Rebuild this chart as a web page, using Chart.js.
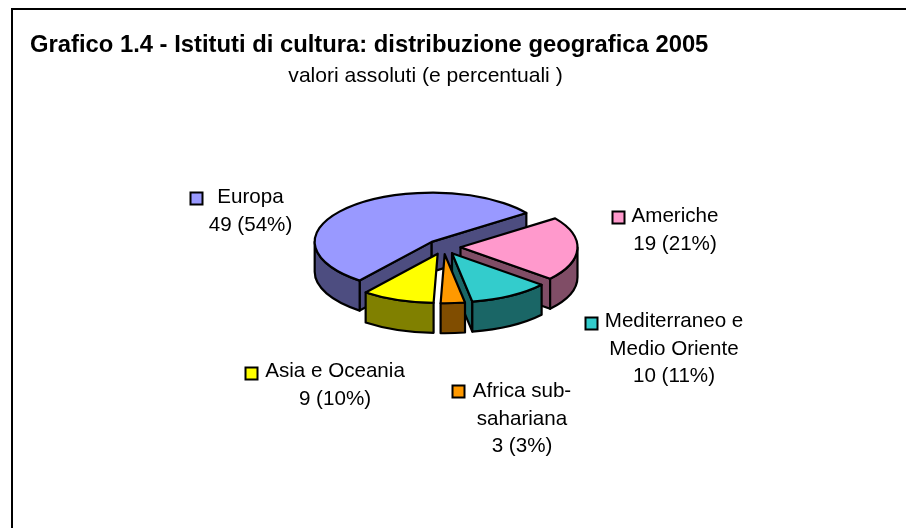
<!DOCTYPE html>
<html><head><meta charset="utf-8">
<style>html,body{margin:0;padding:0;background:#fff}#w{position:relative;width:906px;height:528px}</style>
<script src="https://cdn.jsdelivr.net/npm/chart.js@4"></script>
</head><body><div id="w"><canvas id="c" width="906" height="528"></canvas></div>
<script>
const categories = ['Europa','Americhe','Mediterraneo e Medio Oriente','Africa sub-sahariana','Asia e Oceania'];
const values = [49,19,10,3,9];
const percents = [54,21,11,3,10];
const topColors = ['#9999FF','#FF99CC','#33CCCC','#FF9900','#FFFF00'];
const sideColors = ['#4D4D80','#804D66','#1A6666','#804D00','#808000'];
const labelLines = [
  ['Europa','49 (54%)'],
  ['Americhe','19 (21%)'],
  ['Mediterraneo e','Medio Oriente','10 (11%)'],
  ['Africa sub-','sahariana','3 (3%)'],
  ['Asia e Oceania','9 (10%)']
];
const titleText = 'Grafico 1.4 - Istituti di cultura: distribuzione geografica 2005';
const subtitleText = 'valori assoluti (e percentuali )';
const FONT = '"Liberation Sans", Arial, sans-serif';
const labelPos = [
  {cx:250.5,y:203,mx:190.5,my:192.5},
  {cx:675,y:222,mx:612.5,my:211.5},
  {cx:674,y:327,mx:585.5,my:317.5},
  {cx:522,y:397,mx:452.5,my:385.5},
  {cx:335,y:377,mx:245.5,my:367.5}
];
const K = 0.42, DEPTH = 30, CX = 443.5, CY = 247, EXPLODE = 17, LINE = 27.5;

const pie3d = {
  id:'pie3d',
  beforeDraw(chart){
    const c = chart.ctx;
    c.save(); c.strokeStyle='#000'; c.lineWidth=2;
    c.beginPath(); c.moveTo(12,528); c.lineTo(12,9); c.lineTo(906,9); c.stroke();
    c.restore();
  },
  beforeDatasetsDraw(chart){
    const c = chart.ctx, arcs = chart.getDatasetMeta(0).data;
    const order = arcs.map((a,i)=>i).sort((p,q)=>
      Math.sin((arcs[p].startAngle+arcs[p].endAngle)/2)-Math.sin((arcs[q].startAngle+arcs[q].endAngle)/2));
    const TAU = Math.PI*2;
    for(const i of order){
      const a = arcs[i], R = a.outerRadius;
      const s=a.startAngle, e=a.endAngle, mid=(s+e)/2;
      const ox = CX+Math.cos(mid)*EXPLODE, oy = CY+Math.sin(mid)*EXPLODE*K;
      const ry = R*K;
      const px=t=>ox+R*Math.cos(t), py=t=>oy+ry*Math.sin(t);
      c.save();
      c.lineWidth=2.2; c.strokeStyle='#000'; c.lineJoin='round'; c.fillStyle=sideColors[i];
      const face=(t)=>{c.beginPath();c.moveTo(ox,oy);c.lineTo(px(t),py(t));c.lineTo(px(t),py(t)+DEPTH);c.lineTo(ox,oy+DEPTH);c.closePath();c.fill();c.stroke();};
      if(Math.cos(s)<-0.1) face(s);
      if(Math.cos(e)>0.1) face(e);
      for(let k=-1;k<=2;k++){
        const lo=Math.max(s,k*TAU), hi=Math.min(e,k*TAU+Math.PI);
        if(hi>lo){
          c.beginPath();
          c.ellipse(ox,oy,R,ry,0,lo,hi);
          c.lineTo(px(hi),py(hi)+DEPTH);
          c.ellipse(ox,oy+DEPTH,R,ry,0,hi,lo,true);
          c.closePath(); c.fill(); c.stroke();
        }
      }
      c.save();
      c.translate(ox,oy); c.scale(1,K); c.translate(-a.x,-a.y);
      a.draw(c);
      c.restore();
      c.beginPath(); c.moveTo(ox,oy); c.ellipse(ox,oy,R,ry,0,s,e); c.closePath(); c.stroke();
      c.restore();
    }
    return false;
  },
  afterDraw(chart){
    const c = chart.ctx;
    c.save();
    c.font='20.6px '+FONT; c.textAlign='center'; c.textBaseline='alphabetic';
    labelLines.forEach((lines,i)=>{
      const p=labelPos[i];
      c.fillStyle=topColors[i]; c.strokeStyle='#000'; c.lineWidth=2;
      c.fillRect(p.mx,p.my,12,12); c.strokeRect(p.mx,p.my,12,12);
      c.fillStyle='#000';
      lines.forEach((l,j)=>c.fillText(l,p.cx,p.y+j*LINE));
    });
    c.restore();
  }
};

new Chart(document.getElementById('c'),{
  type:'pie',
  data:{labels:categories,datasets:[{data:values,backgroundColor:topColors,borderWidth:0,offset:0,radius:117,hoverOffset:0}]},
  options:{
    responsive:false,animation:false,rotation:218,
    layout:{padding:{left:30,right:85,top:0,bottom:0}},
    events:[],
    plugins:{
      legend:{display:false},tooltip:{enabled:false},
      title:{display:true,text:titleText,align:'start',color:'#000',font:{family:FONT,size:23.8,weight:'bold'},padding:{top:31.5,bottom:0.5}},
      subtitle:{display:true,text:subtitleText,align:'center',color:'#000',font:{family:FONT,size:21.1,weight:'normal'},padding:{top:3,bottom:0}}
    }
  },
  plugins:[pie3d]
});
</script></body></html>
